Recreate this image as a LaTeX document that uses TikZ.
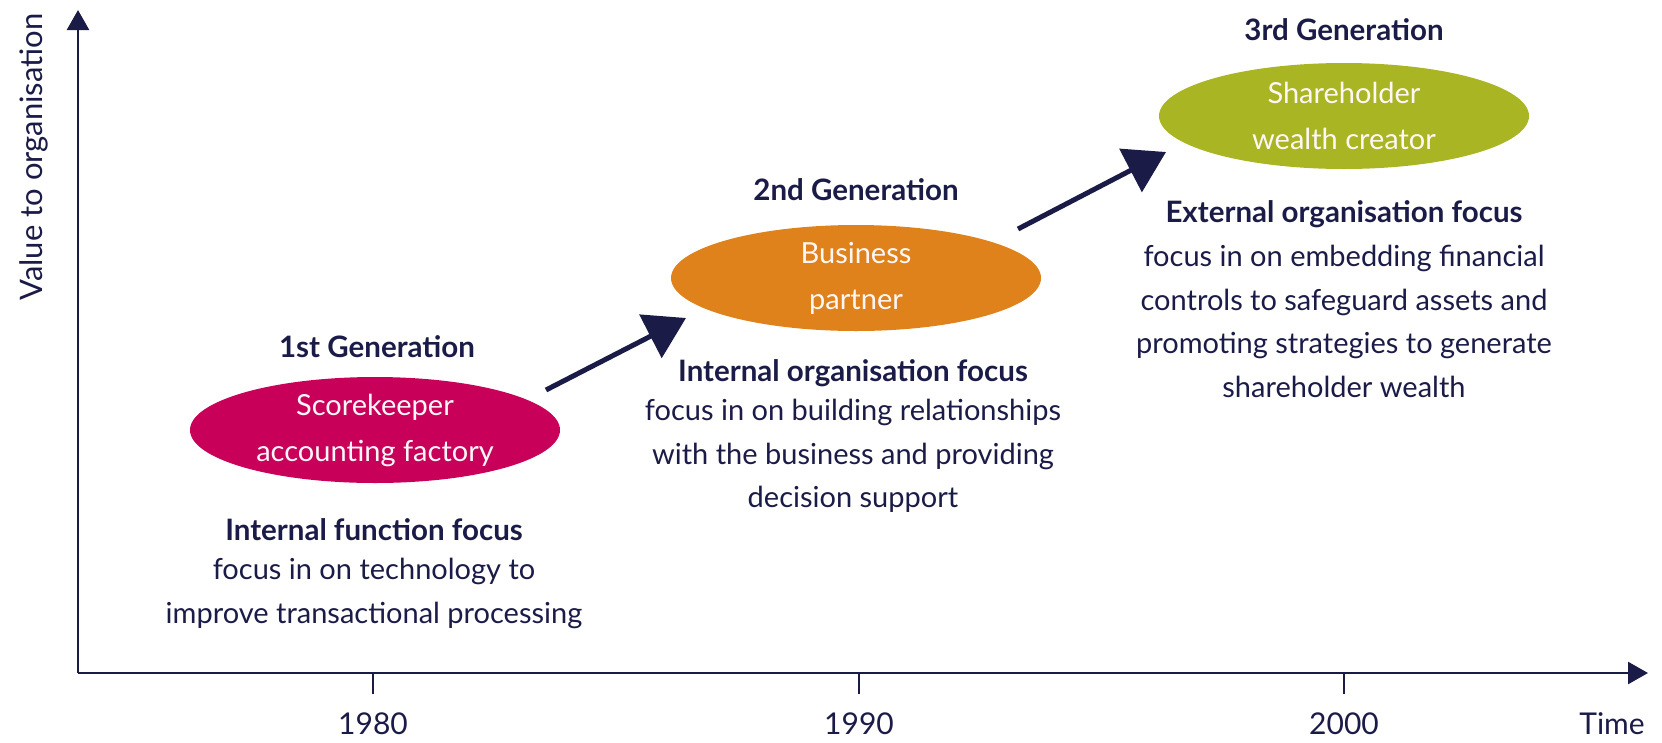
\documentclass[tikz,border=0pt]{standalone}
\usepackage{fontspec}
\setmainfont{Lato}
\usetikzlibrary{arrows.meta,shapes.geometric}
\definecolor{navy}{HTML}{1B1B48}
\definecolor{crim}{HTML}{C8005A}
\definecolor{orng}{HTML}{E0821C}
\definecolor{olive}{HTML}{A9B523}
\begin{document}
\begin{tikzpicture}[x=1pt,y=-1pt,
  gen/.style={ellipse,minimum width=370pt,minimum height=106pt,inner sep=0pt,text=white!88!pink,font=\fontsize{29}{46}\selectfont,align=center},
  head/.style={text=navy,font=\bfseries\fontsize{29.5}{43}\selectfont,inner sep=0pt},
  body/.style={text=navy,font=\fontsize{29}{43.5}\selectfont,align=center,inner sep=0pt},
  yr/.style={text=navy,font=\fontsize{30}{38}\selectfont,inner sep=0pt},
  axis/.style={draw=navy,line width=2.6pt,-{Triangle[length=20pt,width=22pt]}},
  tick/.style={draw=navy,line width=2pt},
  prog/.style={draw=navy,line width=5pt,-{Triangle[length=40pt,width=48pt]}}]
\useasboundingbox (0,0) rectangle (1662,742);
% axes
\coordinate (O) at (78,673);
\coordinate (Ytop) at (78,10);
\coordinate (Xend) at (1648,673);
\draw[axis] (O) -- (Ytop);
\draw[axis] (O) -- (Xend);
\node[body,rotate=90,font=\fontsize{31}{40}\selectfont] (ylab) at (34,157) {Value to organisation};
\node[yr] (tlab) at (1612,724) {Time};
\foreach \x/\yr in {373/1980,859/1990,1344/2000}{
  \coordinate (t\yr) at (\x,673);
  \coordinate (tb\yr) at (\x,694);
  \draw[tick] (t\yr) -- (tb\yr);
  \node[yr] (y\yr) at (\x,724) {\yr};
}
% generation 1
\node[head] (h1) at (377,347) {1st Generation};
\node[gen,fill=crim] (e1) at (375,430) {Scorekeeper\\accounting factory};
\node[head] (f1) at (374,530) {Internal function focus};
\node[body,anchor=north] (b1) at (374,558) {focus in on technology to\\improve transactional processing};
% generation 2
\node[head] (h2) at (856,190) {2nd Generation};
\node[gen,fill=orng] (e2) at (856,278) {Business\\partner};
\node[head] (f2) at (853,373) {Internal organisation focus};
\node[body,anchor=north] (b2) at (853,399) {focus in on building relationships\\with the business and providing\\decision support};
% generation 3
\node[head] (h3) at (1344,30) {3rd Generation};
\node[gen,fill=olive] (e3) at (1344,116) {Shareholder\\wealth creator};
\node[head] (f3) at (1344,214) {External organisation focus};
\node[body,anchor=north] (b3) at (1344,245) {focus in on embedding financial\\controls to safeguard assets and\\promoting strategies to generate\\shareholder wealth};
% progression arrows
\coordinate (a1s) at (546,390);
\coordinate (a1e) at (686,318);
\coordinate (a2s) at (1018,229);
\coordinate (a2e) at (1166,152);
\draw[prog] (a1s) -- (a1e);
\draw[prog] (a2s) -- (a2e);
\end{tikzpicture}
\end{document}
